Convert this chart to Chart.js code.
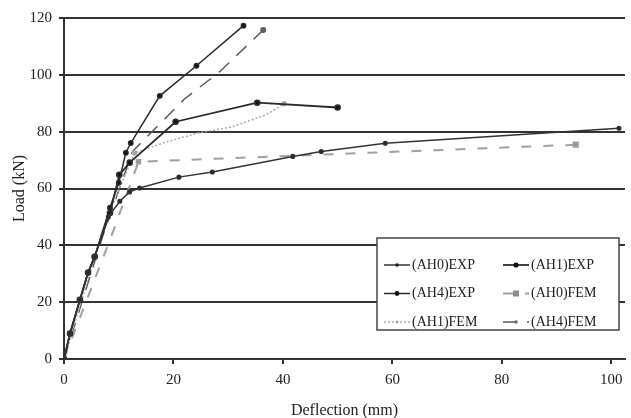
<!DOCTYPE html>
<html lang="en">
  <head>
    <meta charset="UTF-8" />
    <title>Load - Deflection</title>
    <style>
      html, body { margin: 0; padding: 0; background: #fff; }
      #wrap { width: 631px; height: 418px; position: relative; }
    </style>
    <script src="https://cdn.jsdelivr.net/npm/chart.js"></script>
  </head>
  <body>
    <div id="wrap"><canvas id="loadChart"></canvas></div>

    <script>
      // series labels (legend order)
      const seriesLabels = ["(AH0)EXP", "(AH1)EXP", "(AH4)EXP", "(AH0)FEM", "(AH1)FEM", "(AH4)FEM"];

      // deflection (mm) / load (kN)
      const ah0ExpX = [0, 1.1, 2.9, 4.4, 5.6, 8.1, 10.2, 12, 13.8, 21, 27.1, 41.8, 47, 58.7, 101.4];
      const ah0ExpY = [0, 9, 20.8, 30.4, 36, 50, 55.5, 58.8, 60.2, 64, 65.8, 71.3, 73, 75.9, 81.2];

      const ah1ExpX = [0, 1.1, 2.9, 4.4, 5.6, 8.4, 10.1, 12, 20.4, 35.3, 50];
      const ah1ExpY = [0, 9, 20.8, 30.4, 36, 51.4, 64.8, 69.1, 83.5, 90.2, 88.5];

      const ah4ExpX = [0, 1.1, 2.9, 4.4, 5.6, 8.4, 10, 11.3, 12.2, 17.5, 24.2, 32.8];
      const ah4ExpY = [0, 9, 20.8, 30.4, 36, 53.2, 62, 72.6, 76, 92.6, 103.2, 117.3];

      const ah0FemX = [0, 9, 13.6, 93.5];
      const ah0FemY = [0, 45, 69.4, 75.4];

      const ah1FemX = [0, 7.5, 12.9, 18.7, 24.7, 30.7, 36.9, 40.2];
      const ah1FemY = [0, 48, 72.5, 76.4, 79.6, 81.7, 85.9, 89.8];

      const ah4FemX = [0, 7.2, 12.5, 22, 28.4, 36.4];
      const ah4FemY = [0, 44, 73, 91.5, 101, 115.8];

      const xTicks = [0, 20, 40, 60, 80, 100];
      const yTicks = [0, 20, 40, 60, 80, 100, 120];

      function toPoints(xs, ys) {
        return xs.map((x, i) => ({ x: x, y: ys[i] }));
      }

      // legend box drawn inside the plot, two columns
      const boxLegend = {
        id: "boxLegend",
        afterDatasetsDraw(chart) {
          const ctx = chart.ctx;
          const bx = 377, by = 238, bw = 242, bh = 92;
          ctx.save();
          ctx.fillStyle = "#fff";
          ctx.fillRect(bx, by, bw, bh);
          ctx.strokeStyle = "#444";
          ctx.lineWidth = 1.5;
          ctx.strokeRect(bx, by, bw, bh);
          ctx.font = "14px 'Liberation Serif', serif";
          ctx.textBaseline = "middle";
          chart.data.datasets.forEach((ds, i) => {
            const col = i % 2, row = Math.floor(i / 2);
            const x0 = col === 0 ? 384 : 503;
            const y0 = 265 + row * 28.5;
            ctx.setLineDash(ds.borderDash || []);
            ctx.strokeStyle = ds.borderColor;
            ctx.lineWidth = ds.borderWidth;
            ctx.beginPath();
            ctx.moveTo(x0, y0);
            ctx.lineTo(x0 + 26, y0);
            ctx.stroke();
            ctx.setLineDash([]);
            ctx.fillStyle = ds.pointBackgroundColor;
            const r = ds.legendRadius;
            if (ds.pointStyle === "rect") {
              ctx.fillRect(x0 + 13 - r, y0 - r, 2 * r, 2 * r);
            } else {
              ctx.beginPath();
              ctx.arc(x0 + 13, y0, r, 0, Math.PI * 2);
              ctx.fill();
            }
            ctx.fillStyle = "#222";
            ctx.fillText(ds.label, x0 + 28, y0);
          });
          ctx.restore();
        },
      };

      const ctx = document.getElementById("loadChart").getContext("2d");

      new Chart(ctx, {
        type: "scatter",
        data: {
          datasets: [
            {
              label: seriesLabels[0],
              data: toPoints(ah0ExpX, ah0ExpY),
              borderColor: "#333",
              pointBackgroundColor: "#222",
              borderWidth: 1.5,
              pointRadius: 1.8,
              legendRadius: 1.8,
              pointStyle: "circle",
            },
            {
              label: seriesLabels[1],
              data: toPoints(ah1ExpX, ah1ExpY),
              borderColor: "#2a2a2a",
              pointBackgroundColor: "#111",
              borderWidth: 1.8,
              pointRadius: 2.4,
              legendRadius: 2.6,
              pointStyle: "circle",
            },
            {
              label: seriesLabels[2],
              data: toPoints(ah4ExpX, ah4ExpY),
              borderColor: "#2a2a2a",
              pointBackgroundColor: "#111",
              borderWidth: 1.5,
              pointRadius: 2.2,
              legendRadius: 2.4,
              pointStyle: "circle",
            },
            {
              label: seriesLabels[3],
              data: toPoints(ah0FemX, ah0FemY),
              borderColor: "#a0a0a0",
              pointBackgroundColor: "#8c8c8c",
              borderWidth: 2,
              borderDash: [10, 12],
              pointRadius: [0, 0, 2.5, 3],
              legendRadius: 3,
              pointStyle: "rect",
            },
            {
              label: seriesLabels[4],
              data: toPoints(ah1FemX, ah1FemY),
              borderColor: "#ababab",
              pointBackgroundColor: "#a0a0a0",
              borderWidth: 1.5,
              borderDash: [2, 2],
              pointRadius: [0, 0, 2, 0, 0, 0, 0, 2],
              legendRadius: 1.5,
              pointStyle: "circle",
            },
            {
              label: seriesLabels[5],
              data: toPoints(ah4FemX, ah4FemY),
              borderColor: "#5a5a5a",
              pointBackgroundColor: "#666",
              borderWidth: 1.5,
              borderDash: [14, 10],
              pointRadius: [0, 0, 0, 0, 0, 2.2],
              legendRadius: 1.8,
              pointStyle: "circle",
            },
          ],
        },
        options: {
          responsive: true,
          maintainAspectRatio: false,
          animation: false,
          showLine: true,
          layout: { padding: { top: 18, right: 3, left: 0, bottom: 0 } },
          plugins: {
            legend: { display: false },
            tooltip: { enabled: false },
          },
          elements: { line: { tension: 0 } },
          scales: {
            x: {
              type: "linear",
              min: 0,
              max: 102.5,
              afterBuildTicks: (s) => { s.ticks = xTicks.map((v) => ({ value: v })); },
              afterFit: (s) => { s.height = 59; },
              ticks: {
                color: "#222",
                padding: 7,
                maxRotation: 0,
                font: { family: "'Liberation Serif', serif", size: 15 },
              },
              grid: { drawOnChartArea: false, drawTicks: true, tickLength: 5, color: "#333", lineWidth: 2 },
              border: { display: true, color: "#333", width: 2 },
              title: {
                display: true,
                text: "Deflection (mm)",
                color: "#222",
                padding: { top: 0, bottom: -2 },
                font: { family: "'Liberation Serif', serif", size: 16 },
              },
            },
            y: {
              type: "linear",
              min: 0,
              max: 120,
              afterBuildTicks: (s) => { s.ticks = yTicks.map((v) => ({ value: v })); },
              afterFit: (s) => { s.width = 64; },
              ticks: {
                color: "#222",
                padding: 7,
                font: { family: "'Liberation Serif', serif", size: 15 },
              },
              grid: { color: "#333", lineWidth: 2, drawTicks: true, tickLength: 5 },
              border: { display: true, color: "#333", width: 2 },
              title: {
                display: true,
                text: "Load (kN)",
                color: "#222",
                padding: { top: 10, bottom: 0 },
                font: { family: "'Liberation Serif', serif", size: 16 },
              },
            },
          },
        },
        plugins: [boxLegend],
      });
    </script>
  </body>
</html>
